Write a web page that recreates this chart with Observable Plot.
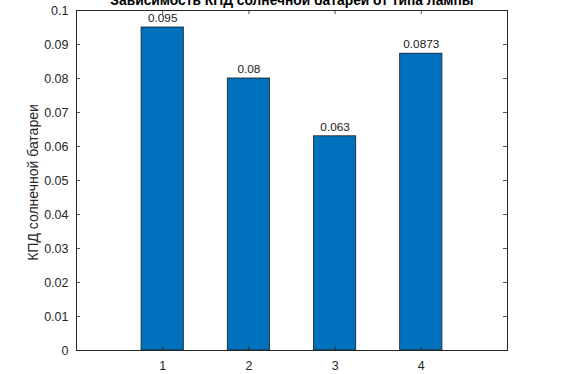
<!DOCTYPE html>
<html>
<head>
<meta charset="utf-8">
<script src="https://cdn.jsdelivr.net/npm/d3@7"></script>
<script src="https://cdn.jsdelivr.net/npm/@observablehq/plot@0.6"></script>
<style>
  html, body { margin: 0; padding: 0; background: #fff; }
  svg { display: block; }
</style>
</head>
<body>
<div id="chart"></div>
<script>
const lamps = [1, 2, 3, 4];
const efficiency = [0.095, 0.08, 0.063, 0.0873];
const valueLabels = ["0.095", "0.08", "0.063", "0.0873"];
const yTicks = [0, 0.01, 0.02, 0.03, 0.04, 0.05, 0.06, 0.07, 0.08, 0.09, 0.1];
const yTickLabels = ["0", "0.01", "0.02", "0.03", "0.04", "0.05", "0.06", "0.07", "0.08", "0.09", "0.1"];
const title = "Зависимость КПД солнечной батареи от типа лампы";
const yLabel = "КПД солнечной батареи";

const bars = lamps.map((l, i) => ({lamp: l, value: efficiency[i], label: valueLabels[i]}));
const yt = yTicks.map((v, i) => ({v, label: yTickLabels[i]}));
const halfWidth = 0.245;
const tickLenX = 0.047;   // in x units (inward y-axis ticks)
const tickLenY = 0.0012;  // in y units (inward x-axis ticks)
const ink = "#262626";

const chart = Plot.plot({
  width: 561,
  height: 374,
  marginLeft: 76,
  marginRight: 54,
  marginTop: 10,
  marginBottom: 24,
  style: {fontFamily: "'Liberation Sans', Arial, sans-serif", fontSize: "12px", background: "#fff"},
  x: {domain: [0, 5], axis: null},
  y: {domain: [0, 0.1], axis: null},
  marks: [
    Plot.rectY(bars, {x1: d => d.lamp - halfWidth, x2: d => d.lamp + halfWidth, y1: 0, y2: "value", fill: "#0072BD", stroke: "#1a1a1a", strokeWidth: 0.8}),
    Plot.text(bars, {x: "lamp", y: "value", text: "label", dy: -9, fill: "#1a1a1a", fontSize: 11.8}),
    // x ticks (bottom and top, inward)
    Plot.ruleX(lamps, {x: d => d, y1: 0, y2: tickLenY, stroke: ink, strokeWidth: 0.8}),
    Plot.ruleX(lamps, {x: d => d, y1: 0.1, y2: 0.1 - tickLenY, stroke: ink, strokeWidth: 0.8}),
    // y ticks (left and right, inward)
    Plot.ruleY(yTicks, {y: d => d, x1: 0, x2: tickLenX, stroke: ink, strokeWidth: 0.8}),
    Plot.ruleY(yTicks, {y: d => d, x1: 5, x2: 5 - tickLenX, stroke: ink, strokeWidth: 0.8}),
    Plot.frame({stroke: ink, strokeWidth: 1}),
    // tick labels
    Plot.text(lamps, {x: d => d, y: 0, text: d => String(d), dy: 15, fill: ink, fontSize: 12.5}),
    Plot.text(yt, {x: 0, y: "v", text: "label", textAnchor: "end", dx: -8, fill: ink, fontSize: 12.5}),
    // title (partially clipped at the top like the reference)
    Plot.text([title], {frameAnchor: "top", lineAnchor: "middle", text: d => d, dy: -9.5, fontWeight: "bold", fontSize: 13.8, fill: "#000"}),
    // y axis label
    Plot.text([yLabel], {frameAnchor: "left", textAnchor: "middle", text: d => d, rotate: -90, dx: -43, dy: 2, fill: ink, fontSize: 14})
  ]
});
document.getElementById("chart").appendChild(chart);
</script>
</body>
</html>
